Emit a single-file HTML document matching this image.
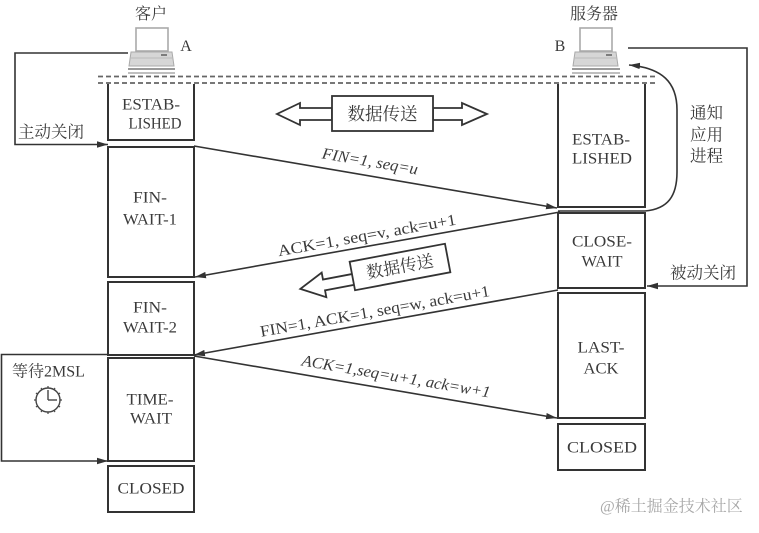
<!DOCTYPE html>
<html>
<head>
<meta charset="utf-8">
<style>
html,body{margin:0;padding:0;background:#fff;}
svg{display:block;}
text{font-family:"Liberation Serif","Noto Serif CJK SC",serif;fill:#3a3a3a;}
.cj{font-family:"Liberation Serif","Noto Serif CJK SC","Noto Sans CJK SC",serif;}
</style>
</head>
<body>
<svg width="759" height="533" viewBox="0 0 759 533" xmlns="http://www.w3.org/2000/svg">
<defs>
<marker id="ah" markerUnits="userSpaceOnUse" markerWidth="11" markerHeight="8" refX="11" refY="4" orient="auto">
<path d="M0,0.8 L11,4 L0,7.2 z" fill="#333"/>
</marker>
</defs>
<rect width="759" height="533" fill="#fff"/>

<!-- titles -->
<text class="cj" x="151" y="19" font-size="16" text-anchor="middle">客户</text>
<text x="186" y="51" font-size="16" text-anchor="middle">A</text>
<text class="cj" x="594" y="19" font-size="16" text-anchor="middle">服务器</text>
<text x="560" y="51" font-size="16" text-anchor="middle">B</text>

<!-- client computer -->
<rect x="136" y="28" width="32" height="23" fill="#fff" stroke="#aaa" stroke-width="1.6"/>
<path d="M131,52 L172,52 L174,66 L129,66 z" fill="#d6d6d6" stroke="#aaa" stroke-width="1"/>
<line x1="131" y1="58" x2="172" y2="58" stroke="#bbb" stroke-width="1"/>
<line x1="161" y1="55" x2="167" y2="55" stroke="#666" stroke-width="1.6"/>
<line x1="128" y1="69" x2="175" y2="69" stroke="#999" stroke-width="2"/>
<line x1="128" y1="73" x2="175" y2="73" stroke="#aaa" stroke-width="1.5"/>

<!-- server computer -->
<rect x="580" y="28" width="32" height="23" fill="#fff" stroke="#aaa" stroke-width="1.6"/>
<path d="M575,52 L616,52 L618,66 L573,66 z" fill="#d6d6d6" stroke="#aaa" stroke-width="1"/>
<line x1="575" y1="58" x2="616" y2="58" stroke="#bbb" stroke-width="1"/>
<line x1="606" y1="55" x2="612" y2="55" stroke="#666" stroke-width="1.6"/>
<line x1="572" y1="69" x2="620" y2="69" stroke="#999" stroke-width="2"/>
<line x1="572" y1="73" x2="620" y2="73" stroke="#aaa" stroke-width="1.5"/>

<!-- dashed lines -->
<line x1="98" y1="76.5" x2="655" y2="76.5" stroke="#666" stroke-width="1.8" stroke-dasharray="5,3"/>
<line x1="98" y1="83" x2="655" y2="83" stroke="#666" stroke-width="1.8" stroke-dasharray="5,3"/>

<!-- left boxes -->
<g fill="none" stroke="#333" stroke-width="2">
<path d="M108,84 L108,140 L194,140 L194,84"/>
<rect x="108" y="147" width="86" height="130"/>
<rect x="108" y="282" width="86" height="73"/>
<rect x="108" y="358" width="86" height="103"/>
<rect x="108" y="466" width="86" height="46"/>
<!-- right boxes -->
<path d="M558,84 L558,207 L645,207 L645,84"/>
<rect x="558" y="213" width="87" height="75"/>
<rect x="558" y="293" width="87" height="125"/>
<rect x="558" y="424" width="87" height="46"/>
</g>

<!-- state labels -->
<g font-size="16" text-anchor="middle" dominant-baseline="central">
<text x="151" y="105" textLength="58" lengthAdjust="spacingAndGlyphs">ESTAB-</text>
<text x="155" y="124" textLength="53" lengthAdjust="spacingAndGlyphs">LISHED</text>
<text x="150" y="198" textLength="34" lengthAdjust="spacingAndGlyphs">FIN-</text>
<text x="150" y="220" textLength="54" lengthAdjust="spacingAndGlyphs">WAIT-1</text>
<text x="150" y="308" textLength="34" lengthAdjust="spacingAndGlyphs">FIN-</text>
<text x="150" y="328" textLength="54" lengthAdjust="spacingAndGlyphs">WAIT-2</text>
<text x="150" y="400" textLength="47" lengthAdjust="spacingAndGlyphs">TIME-</text>
<text x="151" y="419" textLength="42" lengthAdjust="spacingAndGlyphs">WAIT</text>
<text x="151" y="489" textLength="67" lengthAdjust="spacingAndGlyphs">CLOSED</text>

<text x="601" y="140" textLength="58" lengthAdjust="spacingAndGlyphs">ESTAB-</text>
<text x="602" y="159" textLength="60" lengthAdjust="spacingAndGlyphs">LISHED</text>
<text x="602" y="242" textLength="60" lengthAdjust="spacingAndGlyphs">CLOSE-</text>
<text x="602" y="262" textLength="41" lengthAdjust="spacingAndGlyphs">WAIT</text>
<text x="601" y="348" textLength="47" lengthAdjust="spacingAndGlyphs">LAST-</text>
<text x="601" y="369" textLength="35" lengthAdjust="spacingAndGlyphs">ACK</text>
<text x="602" y="448" textLength="70" lengthAdjust="spacingAndGlyphs">CLOSED</text>
</g>

<!-- connectors -->
<g fill="none" stroke="#333" stroke-width="1.6">
<polyline points="128,53 15,53 15,144.5 108,144.5" marker-end="url(#ah)"/>
<line x1="194" y1="146" x2="557" y2="208" marker-end="url(#ah)"/>
<line x1="560" y1="212" x2="195" y2="277" marker-end="url(#ah)"/>
<line x1="558" y1="290" x2="194" y2="355" marker-end="url(#ah)"/>
<line x1="194" y1="356" x2="557" y2="418" marker-end="url(#ah)"/>
<polyline points="628,48 747,48 747,286 647,286" marker-end="url(#ah)"/>
<path d="M558,211 L645,211 C668,209 677,196 677,172 L677,110 C677,82 662,68 629,65" marker-end="url(#ah)"/>
<polyline points="108,354.5 1.5,354.5 1.5,461 108,461" marker-end="url(#ah)"/>
</g>

<!-- side labels -->
<g class="cj" font-size="16.5" dominant-baseline="central">
<text x="18" y="132">主动关闭</text>
<text x="670" y="273">被动关闭</text>
<text x="690" y="113">通知</text>
<text x="690" y="135">应用</text>
<text x="690" y="156">进程</text>
<text x="12" y="372" font-size="16">等待2MSL</text>
</g>

<!-- clock -->
<g stroke="#444" stroke-width="1.4" fill="none">
<circle cx="48" cy="400" r="12"/>
<line x1="48" y1="400" x2="48" y2="390"/>
<line x1="48" y1="400" x2="57" y2="400"/>
<g stroke-width="1.2">
<line x1="48" y1="386" x2="48" y2="388.5"/>
<line x1="48" y1="411.5" x2="48" y2="414"/>
<line x1="34" y1="400" x2="36.5" y2="400"/>
<line x1="59.5" y1="400" x2="62" y2="400"/>
<line x1="55" y1="387.9" x2="53.75" y2="390"/>
<line x1="60.1" y1="393" x2="58" y2="394.25"/>
<line x1="60.1" y1="407" x2="58" y2="405.75"/>
<line x1="55" y1="412.1" x2="53.75" y2="410"/>
<line x1="41" y1="412.1" x2="42.25" y2="410"/>
<line x1="35.9" y1="407" x2="38" y2="405.75"/>
<line x1="35.9" y1="393" x2="38" y2="394.25"/>
<line x1="41" y1="387.9" x2="42.25" y2="390"/>
</g>
</g>

<!-- message labels -->
<g font-size="16" text-anchor="middle" dominant-baseline="central">
<text x="370" y="162" transform="rotate(9.67 370 162)" font-style="italic" textLength="97" lengthAdjust="spacingAndGlyphs">FIN=1, seq=u</text>
<text x="367" y="236" transform="rotate(-10.1 367 236)" textLength="181" lengthAdjust="spacingAndGlyphs">ACK=1, seq=v, ack=u+1</text>
<text x="375" y="312" transform="rotate(-10.1 375 312)" textLength="233" lengthAdjust="spacingAndGlyphs">FIN=1, ACK=1, seq=w, ack=u+1</text>
<text x="396" y="377" transform="rotate(9.67 396 377)" font-style="italic" textLength="191" lengthAdjust="spacingAndGlyphs">ACK=1,seq=u+1, ack=w+1</text>
</g>

<!-- data transfer top -->
<g fill="#fff" stroke="#333" stroke-width="1.8">
<polygon points="332,108 300,108 300,103 277,114 300,125 300,120 332,120"/>
<polygon points="433,108 462,108 462,103 487,114 462,125 462,120 433,120"/>
<rect x="332" y="96" width="101" height="35"/>
</g>
<text class="cj" x="382.5" y="114" font-size="17.5" text-anchor="middle" dominant-baseline="central">数据传送</text>

<!-- data transfer rotated -->
<g transform="translate(400,267) rotate(-10.7)">
<polygon points="-48,-2 -78,-2 -78,-9 -102,3 -78,16 -78,9 -48,9" fill="#fff" stroke="#333" stroke-width="1.8"/>
<rect x="-48.5" y="-14.5" width="97" height="29" fill="#fff" stroke="#333" stroke-width="1.8"/>
<text class="cj" x="0" y="0" font-size="17" text-anchor="middle" dominant-baseline="central">数据传送</text>
</g>

<!-- watermark -->
<text class="cj" x="600" y="507" font-size="16" dominant-baseline="central" style="fill:#a8a8a8" font-family="Liberation Sans, Noto Sans CJK SC, sans-serif">@稀土掘金技术社区</text>
</svg>
</body>
</html>
